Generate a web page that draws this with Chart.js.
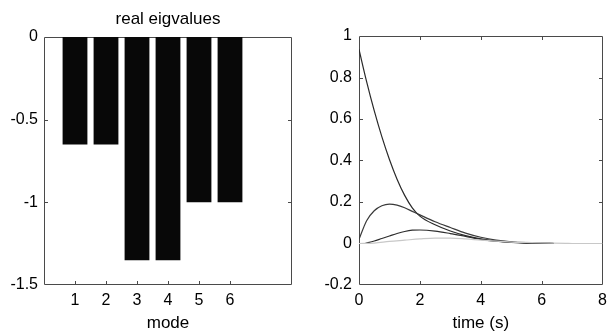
<!DOCTYPE html>
<html>
<head>
<meta charset="utf-8">
<script src="https://cdn.jsdelivr.net/npm/chart.js@4/dist/chart.umd.min.js"></script>
<style>
html,body{margin:0;padding:0;background:#fff;overflow:hidden;width:613px;height:332px}
#c1{position:absolute;left:0;top:0}
#c2{position:absolute;left:300px;top:0}
</style>
</head>
<body>
<canvas id="c1" width="300" height="332"></canvas>
<canvas id="c2" width="313" height="332"></canvas>
<script>
// ---- left panel data ----
const modes = [1, 2, 3, 4, 5, 6];
const eigReal = [-0.65, -0.65, -1.35, -1.35, -1.0, -1.0];
const eigYTicks = [-1.5, -1, -0.5, 0];
const eigYLabels = ['-1.5', '-1', '-0.5', '0'];

// ---- right panel data ----
const timeA = [0, 0.25, 0.5, 0.75, 1, 1.25, 1.5, 1.75, 2, 2.5, 3, 3.5, 4, 4.5, 5, 5.5, 6, 6.4];
const resp1 = [0.935, 0.78, 0.64, 0.515, 0.405, 0.31, 0.232, 0.172, 0.132, 0.09, 0.06, 0.038, 0.022, 0.012, 0.006, 0.003, 0.001, 0];
const resp2 = [0.02, 0.11, 0.158, 0.182, 0.19, 0.185, 0.172, 0.155, 0.138, 0.105, 0.077, 0.05, 0.03, 0.016, 0.008, 0.004, 0.002, 0.001];
const timeB = [0.2, 0.5, 0.75, 1, 1.25, 1.5, 1.75, 2, 2.5, 3, 3.5, 4, 4.5, 5, 5.5, 6, 6.4];
const resp3 = [0, 0.012, 0.024, 0.036, 0.048, 0.058, 0.064, 0.065, 0.06, 0.048, 0.034, 0.02, 0.011, 0.005, 0.002, 0.001, 0];
const timeC = [0, 0.5, 1, 1.5, 2, 2.5, 3, 3.5, 4, 4.5, 5, 5.5, 6, 6.8, 7, 8];
const resp4 = [0, 0.002, 0.01, 0.016, 0.022, 0.026, 0.026, 0.022, 0.016, 0.011, 0.007, 0.005, 0.003, 0.001, 0, 0];
const timeTicks = [0, 2, 4, 6, 8];
const timeLabels = ['0', '2', '4', '6', '8'];
const respTicks = [-0.2, 0, 0.2, 0.4, 0.6, 0.8, 1];
const respLabels = ['-0.2', '0', '0.2', '0.4', '0.6', '0.8', '1'];

Chart.defaults.font.family = '"Liberation Sans", Arial, Helvetica, sans-serif';
Chart.defaults.font.size = 16;
Chart.defaults.color = '#000';

function drawFrame(chart) {
  const ctx = chart.ctx, a = chart.chartArea, sx = chart.scales.x, sy = chart.scales.y;
  const L = Math.round(a.left), R = Math.round(a.right), T = Math.round(a.top), B = Math.round(a.bottom);
  ctx.save();
  ctx.strokeStyle = '#4a4a4a';
  ctx.lineWidth = 1;
  ctx.beginPath();
  ctx.rect(L + 0.5, T + 0.5, R - L - 1, B - T - 1);
  const len = 4;
  sx.ticks.forEach(t => {
    const p = Math.round(sx.getPixelForValue(t.value)) + 0.5;
    if (p < L + 2 || p > R - 2) return;
    ctx.moveTo(p, B); ctx.lineTo(p, B - len);
    ctx.moveTo(p, T); ctx.lineTo(p, T + len);
  });
  sy.ticks.forEach(t => {
    const p = Math.round(sy.getPixelForValue(t.value)) + 0.5;
    if (p < T + 2 || p > B - 2) return;
    ctx.moveTo(L, p); ctx.lineTo(L + len, p);
    ctx.moveTo(R, p); ctx.lineTo(R - len, p);
  });
  ctx.stroke();
  ctx.restore();
}

const framePlugin = {
  id: 'matlabFrame',
  beforeDatasetsDraw(chart) { drawFrame(chart); }
};

const titleFont = {size: 17, lineHeight: 1};
const noGrid = {display: false, drawTicks: false, tickLength: 0};

new Chart(document.getElementById('c1'), {
  type: 'bar',
  data: {
    datasets: [{
      data: modes.map((m, i) => ({x: m, y: eigReal[i]})),
      backgroundColor: '#080808',
      borderWidth: 0,
      barPercentage: 0.8,
      categoryPercentage: 1
    }]
  },
  options: {
    responsive: false,
    animation: false,
    layout: {padding: {left: 0, right: 8, top: 0, bottom: 0}},
    plugins: {legend: {display: false}, tooltip: {enabled: false}},
    scales: {
      x: {
        type: 'linear', min: 0, max: 8, offset: false,
        grid: noGrid, border: {display: false},
        afterBuildTicks: s => { s.ticks = modes.map(v => ({value: v})); },
        ticks: {padding: 6, autoSkip: false, maxRotation: 0, callback: v => String(v)},
        title: {display: true, text: 'mode', font: titleFont, padding: {top: 0, bottom: 0}},
        afterFit: s => { s.height = 47; }
      },
      x2: {
        type: 'linear', position: 'top', min: 0, max: 8, offset: false,
        grid: noGrid, border: {display: false},
        ticks: {display: false},
        title: {display: true, text: 'real eigvalues', font: titleFont, padding: {top: 10.5, bottom: 0}},
        afterFit: s => { s.height = 37; }
      },
      y: {
        type: 'linear', min: -1.5, max: 0,
        grid: noGrid, border: {display: false},
        afterBuildTicks: s => { s.ticks = eigYTicks.map(v => ({value: v})); },
        ticks: {padding: 6, callback: (v, i) => eigYLabels[i]},
        afterFit: s => { s.width = 44; }
      }
    }
  },
  plugins: [framePlugin]
});

const lineDs = (xs, ys, color) => ({
  data: xs.map((x, i) => ({x, y: ys[i]})),
  borderColor: color,
  borderWidth: 1.2,
  pointRadius: 0,
  fill: false,
  cubicInterpolationMode: 'monotone'
});

new Chart(document.getElementById('c2'), {
  type: 'line',
  data: {
    datasets: [
      lineDs(timeC, resp4, '#c8c8c8'),
      lineDs(timeB, resp3, '#2e2e2e'),
      lineDs(timeA, resp2, '#3a3a3a'),
      lineDs(timeA, resp1, '#2a2a2a')
    ]
  },
  options: {
    responsive: false,
    animation: false,
    layout: {padding: {left: 0, right: 6, top: 36, bottom: 0}},
    plugins: {legend: {display: false}, tooltip: {enabled: false}},
    scales: {
      x: {
        type: 'linear', min: 0, max: 8,
        grid: noGrid, border: {display: false},
        afterBuildTicks: s => { s.ticks = timeTicks.map(v => ({value: v})); },
        ticks: {padding: 6, autoSkip: false, maxRotation: 0, callback: (v, i) => timeLabels[i]},
        title: {display: true, text: 'time (s)', font: titleFont, padding: {top: 0, bottom: 0}},
        afterFit: s => { s.height = 47; }
      },
      y: {
        type: 'linear', min: -0.2, max: 1,
        grid: noGrid, border: {display: false},
        afterBuildTicks: s => { s.ticks = respTicks.map(v => ({value: v})); },
        ticks: {padding: 7, callback: (v, i) => respLabels[i]},
        afterFit: s => { s.width = 59; }
      }
    }
  },
  plugins: [framePlugin]
});
</script>
</body>
</html>
